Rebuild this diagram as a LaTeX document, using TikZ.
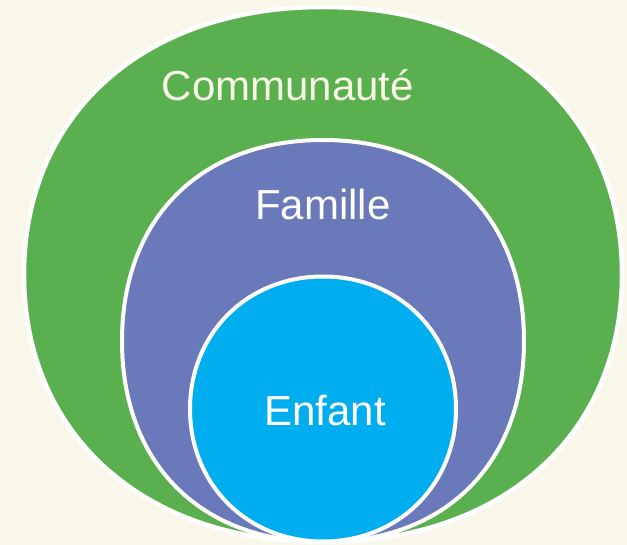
\documentclass[tikz,border=0pt]{standalone}
\usepackage{fontspec}
\setmainfont{Liberation Sans}
\definecolor{bgcream}{HTML}{F9F7EA}
\definecolor{commgreen}{HTML}{5AAF4E}
\definecolor{fampurple}{HTML}{6A79BA}
\definecolor{enfcyan}{HTML}{00AEEF}
\definecolor{txtcream}{HTML}{F8F8E6}
\newcommand\fullblob[1]{(1,0) .. controls (1,#1) and (#1,1) .. (0,1)
  .. controls (-#1,1) and (-1,#1) .. (-1,0)
  .. controls (-1,-#1) and (-#1,-1) .. (0,-1)
  .. controls (#1,-1) and (1,-#1) .. (1,0) -- cycle}
\begin{document}
\begin{tikzpicture}[x=1pt,y=-1pt,
  ring/.style={draw=white,line width=4.5pt},
  lbl/.style={anchor=base,inner sep=0pt,font=\fontsize{42}{46}\selectfont}]
\fill[bgcream] (0,0) rectangle (627,545);
\useasboundingbox (0,0) rectangle (627,545);
\path[ring,fill=commgreen,shift={(323,274.5)},xscale=299,yscale=267.5] \fullblob{0.6};
\path[ring,line width=4pt,fill=fampurple,shift={(323,341)},xscale=201,yscale=201] \fullblob{0.61};
\path[ring,line width=4pt,fill=enfcyan,shift={(323,409)},xscale=133,yscale=132.5] \fullblob{0.57};
\node[lbl,text=txtcream] (comm) at (288,101) {Communauté};
\node[lbl,text=white] (fam) at (323,220) {Famille};
\node[lbl,text=white] (enf) at (325,425) {Enfant};
\end{tikzpicture}
\end{document}
